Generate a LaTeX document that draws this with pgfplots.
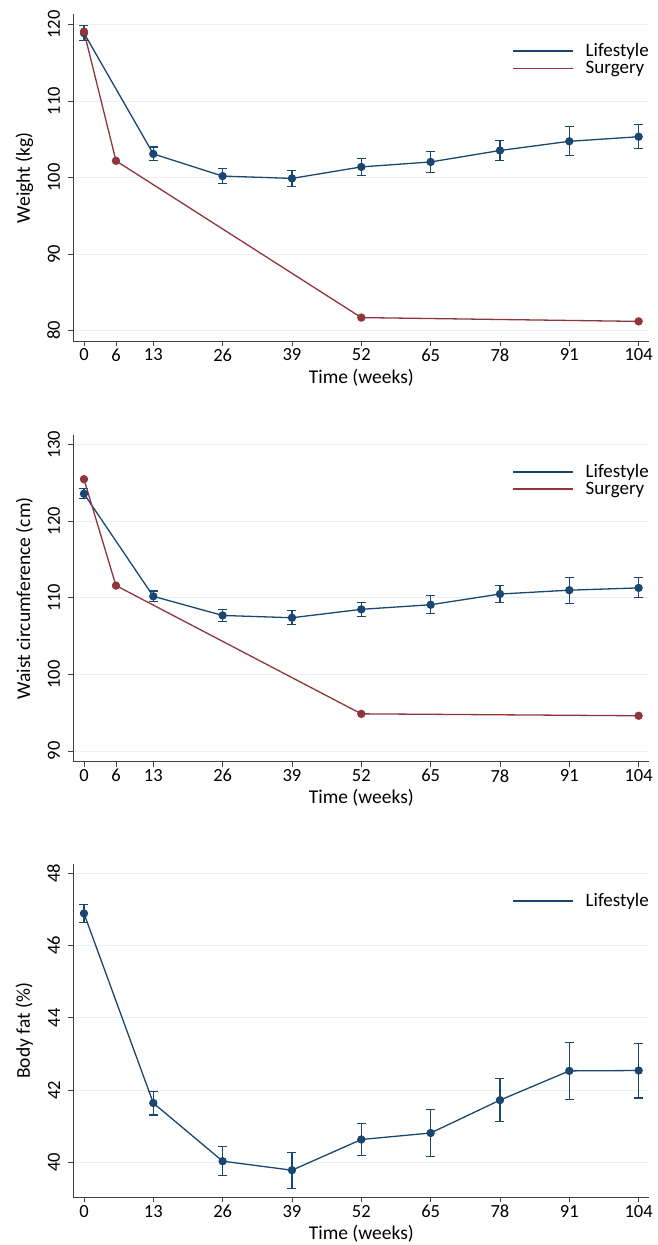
\documentclass[border=0pt]{standalone}
\usepackage{fontspec}
\setmainfont{Carlito}
\usepackage{pgfplots}
\pgfplotsset{compat=1.18}
\definecolor{navy}{RGB}{26,71,111}
\definecolor{maroon}{RGB}{144,53,59}
\definecolor{gridc}{RGB}{232,240,244}
\newcommand{\fs}{\fontsize{18.5}{21}\selectfont}
\newcommand{\fl}{\fontsize{19.5}{22}\selectfont}
\newcommand{\fg}{\fontsize{19}{22}\selectfont}
\pgfplotsset{
 mystyle/.style={
  scale only axis, width=576pt, anchor=south west,
  axis x line*=bottom, axis y line*=left,
  axis line style={black!75, line width=0.9pt, -},
  xmin=-2, xmax=106,
  tick style={black!75, line width=0.9pt},
  major tick length=5pt, tick align=outside,
  ymajorgrids, grid style={gridc, line width=0.9pt},
  /pgf/number format/assume math mode=true,
  tick label style={font=\fs},
  xticklabel style={inner sep=2.5pt},
  yticklabel style={rotate=90, anchor=south, inner sep=8pt},
  label style={font=\fl},
  xlabel={Time (weeks)},
  xlabel style={at={(axis description cs:0.5,0)}, anchor=base, yshift=-42pt},
  ylabel style={at={(axis description cs:-0.085,0.5)}, anchor=center},
  legend style={at={(rel axis cs:1,1)}, anchor=north east, draw=none, fill=none,
    font=\fg, inner sep=0pt, outer sep=0pt, xshift=1pt, yshift=-28pt,
    row sep=0pt, nodes={inner sep=1.5pt}},
  legend cell align=left,
 },
 life/.style={navy, line width=1.3pt, mark=*, mark size=3.5pt,
   mark options={fill=navy, draw=navy, solid},
   legend image code/.code={\draw[navy, line width=1.4pt] (0pt,0pt) -- (60pt,0pt); \path[draw=none] (0pt,0pt) -- (71pt,0pt);},
   error bars/.cd, y dir=both, y explicit,
   error bar style={line width=1.1pt, navy},
   error mark options={rotate=90, navy, mark size=4.5pt, line width=1.1pt}},
 surg/.style={maroon, line width=1.3pt, mark=*, mark size=3.5pt,
   mark options={fill=maroon, draw=maroon, solid},
   legend image code/.code={\draw[maroon, line width=1.4pt] (0pt,0pt) -- (60pt,0pt); \path[draw=none] (0pt,0pt) -- (71pt,0pt);}},
}
\begin{document}
\begin{tikzpicture}
\useasboundingbox (0,0) rectangle (658pt,1245pt);
% Panel 1: weight
\begin{axis}[mystyle, height=327pt, at={(73.3pt,903.7pt)},
  ymin=78.6, ymax=121.36, ytick={80,90,100,110,120},
  xtick={0,6,13,26,39,52,65,78,91,104},
  ylabel={Weight (kg)}]
\addplot[life] table[x=x, y=y, y error=e] {
x y e
0 118.9 1.0
13 103.1 0.9
26 100.2 0.95
39 99.9 1.05
52 101.4 1.1
65 102.05 1.4
78 103.55 1.35
91 104.75 1.9
104 105.35 1.55
};
\addlegendentry{Lifestyle}
\addplot[surg] coordinates {(0,119.1) (6,102.2) (52,81.7) (104,81.2)};
\addlegendentry{Surgery}
\end{axis}
% Panel 2: waist
\begin{axis}[mystyle, height=326.7pt, at={(73.3pt,483.3pt)},
  ymin=88.6, ymax=131.27, ytick={90,100,110,120,130},
  xtick={0,6,13,26,39,52,65,78,91,104},
  ylabel={Waist circumference (cm)}]
\addplot[life] table[x=x, y=y, y error=e] {
x y e
0 123.6 0.63
13 110.2 0.7
26 107.7 0.78
39 107.4 0.9
52 108.5 0.9
65 109.1 1.2
78 110.5 1.13
91 111.0 1.7
104 111.3 1.3
};
\addlegendentry{Lifestyle}
\addplot[surg] coordinates {(0,125.5) (6,111.6) (52,94.85) (104,94.6)};
\addlegendentry{Surgery}
\end{axis}
% Panel 3: body fat
\begin{axis}[mystyle, height=333pt, at={(73.3pt,47.7pt)},
  ymin=39.03, ymax=48.25, ytick={40,42,44,46,48},
  xtick={0,13,26,39,52,65,78,91,104},
  ylabel={Body fat (\%)}]
\addplot[life] table[x=x, y=y, y error=e] {
x y e
0 46.89 0.25
13 41.64 0.33
26 40.03 0.4
39 39.78 0.5
52 40.63 0.45
65 40.81 0.65
78 41.72 0.59
91 42.53 0.78
104 42.54 0.76
};
\addlegendentry{Lifestyle}
\end{axis}
\end{tikzpicture}
\end{document}
